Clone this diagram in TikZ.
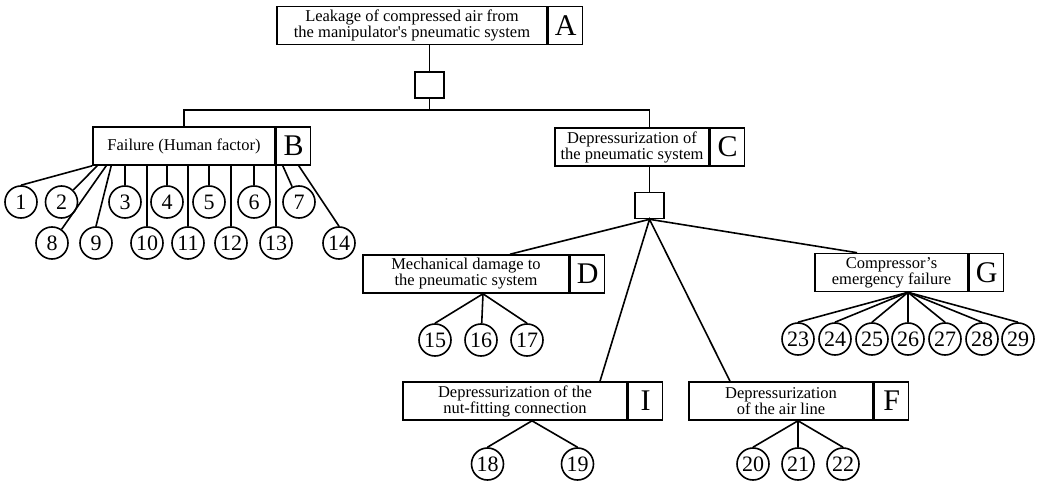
\documentclass[tikz,border=0pt]{standalone}
\usepackage{fontspec}
\setmainfont{Liberation Serif}

\begin{document}
\begin{tikzpicture}[x=1pt, y=-1pt, line width=1.6pt,
    box/.style={draw, minimum height=38, inner sep=1, align=center, font=\fontsize{16.5}{16}\selectfont},
    tag/.style={draw, minimum height=38, minimum width=34, inner sep=0, anchor=west, font=\fontsize{30}{30}\selectfont},
    gate/.style={draw, minimum width=29, minimum height=26, inner sep=0},
    leaf/.style={draw, circle, minimum size=32, inner sep=0, font=\fontsize{22}{22}\selectfont}]
    \useasboundingbox (0,0) rectangle (1042,484);

    \node[box, minimum width=270] (A) at (412,25.5) {Leakage of compressed air from\\the manipulator\textquotesingle s pneumatic system};
    \node[tag] (Atag) at (A.east) {A};
    \node[box, minimum width=182] (B) at (184,146) {Failure (Human factor)};
    \node[tag] (Btag) at (B.east) {B};
    \node[box, minimum width=154] (C) at (632,147) {Depressurization of\\the pneumatic system};
    \node[tag] (Ctag) at (C.east) {C};
    \node[box, minimum width=206] (D) at (466,274) {Mechanical damage to\\the pneumatic system};
    \node[tag] (Dtag) at (D.east) {D};
    \node[box, minimum width=153] (G) at (891.5,272.5) {Compressor’s\\emergency failure};
    \node[tag] (Gtag) at (G.east) {G};
    \node[box, minimum width=224] (I) at (515,401) {Depressurization of the\\nut-fitting connection};
    \node[tag] (Itag) at (I.east) {I};
    \node[box, minimum width=184] (F) at (781,401) {Depressurization\\of the air line};
    \node[tag] (Ftag) at (F.east) {F};

    \node[gate] (g1) at (429.5,85) {};
    \node[gate] (g2) at (649.5,205.5) {};
    \coordinate (bar) at (429.5,110);

    \node[leaf] (c1) at (21,202) {1};
    \node[leaf] (c2) at (61.5,202) {2};
    \node[leaf] (c3) at (125,202) {3};
    \node[leaf] (c4) at (167,202) {4};
    \node[leaf] (c5) at (209,202) {5};
    \node[leaf] (c6) at (254,202) {6};
    \node[leaf] (c7) at (299,202) {7};
    \node[leaf] (c8) at (52,243) {8};
    \node[leaf] (c9) at (96,243) {9};
    \node[leaf] (c10) at (147,243) {10};
    \node[leaf] (c11) at (188,243) {11};
    \node[leaf] (c12) at (231,243) {12};
    \node[leaf] (c13) at (276,243) {13};
    \node[leaf] (c14) at (339,243) {14};
    \node[leaf] (c15) at (435,340) {15};
    \node[leaf] (c16) at (481,340) {16};
    \node[leaf] (c17) at (527,340) {17};
    \node[leaf] (c18) at (487.5,464) {18};
    \node[leaf] (c19) at (577.5,464) {19};
    \node[leaf] (c20) at (753,464) {20};
    \node[leaf] (c21) at (798,464) {21};
    \node[leaf] (c22) at (843,464) {22};
    \node[leaf] (c23) at (798,339) {23};
    \node[leaf] (c24) at (835,339) {24};
    \node[leaf] (c25) at (872,339) {25};
    \node[leaf] (c26) at (908,339) {26};
    \node[leaf] (c27) at (945,339) {27};
    \node[leaf] (c28) at (982,339) {28};
    \node[leaf] (c29) at (1018,339) {29};

    \draw (g1 |- A.south) -- (g1.north);
    \draw (g1.south) -- (bar);
    \draw (B.north) |- (bar) -| (g2 |- C.north);
    \draw (g2 |- C.south) -- (g2.north);
    \draw ([xshift=44]D.north) -- (g2.south) -- ([xshift=-34.5]G.north);
    \draw ([xshift=85]I.north) -- (g2.south) -- ([xshift=-51]F.north);

    \draw (B.south west) -- (c1.north);
    \draw ([xshift=5]B.south west) -- (c2);
    \draw ([xshift=14]B.south west) -- (c8);
    \draw ([xshift=19]B.south west) -- (c9.north);
    \draw (c3 |- B.south) -- (c3);
    \draw (c4 |- B.south) -- (c4);
    \draw (c5 |- B.south) -- (c5);
    \draw (c6 |- B.south) -- (c6);
    \draw (c10 |- B.south) -- (c10);
    \draw (c11 |- B.south) -- (c11);
    \draw (c12 |- B.south) -- (c12);
    \draw (c13 |- B.south) -- (c13);
    \draw ([xshift=7]Btag.south west) -- (c7);
    \draw ([xshift=23]Btag.south west) -- (c14.north);

    \draw (c15.north) -- ([xshift=17]D.south) -- (c17.north);
    \draw ([xshift=17]D.south) -- (c16);
    \draw (c18.north) -- ([xshift=17]I.south) -- (c19.north);
    \draw (c20.north) -- ([xshift=17]F.south) -- (c22.north);
    \draw ([xshift=17]F.south) -- (c21);
    \draw (c23.north) -- ([xshift=16.5]G.south) -- (c29.north);
    \draw (c24.north) -- ([xshift=16.5]G.south) -- (c28.north);
    \draw (c25.north) -- ([xshift=16.5]G.south) -- (c27.north);
    \draw ([xshift=16.5]G.south) -- (c26);
\end{tikzpicture}
\end{document}
